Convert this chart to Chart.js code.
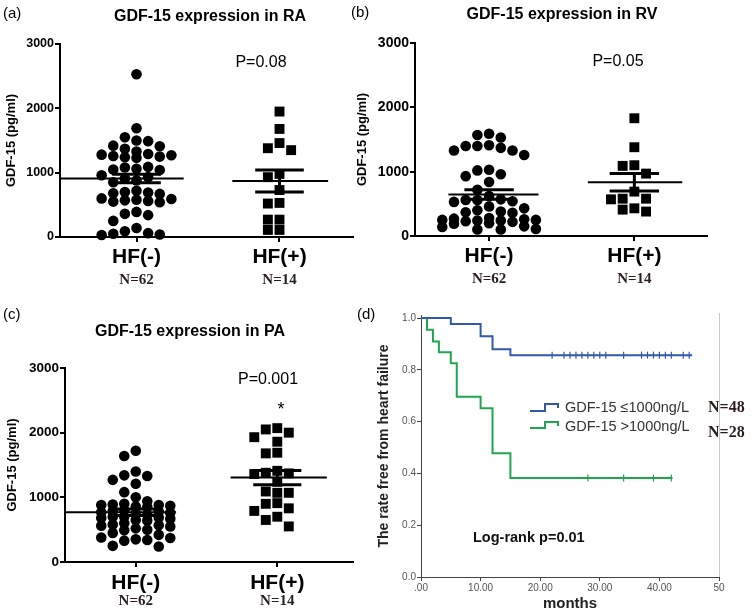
<!DOCTYPE html>
<html>
<head>
<meta charset="utf-8">
<script src="https://cdn.jsdelivr.net/npm/chart.js@4.4.1/dist/chart.umd.min.js"></script>
<style>
body{margin:0;background:#fff;width:752px;height:615px;overflow:hidden;position:relative;}
canvas{position:absolute;}
</style>
</head>
<body>
<canvas id="chartA" style="left:0;top:0" width="360" height="300"></canvas>
<canvas id="chartB" style="left:345px;top:0" width="407" height="300"></canvas>
<canvas id="chartC" style="left:0;top:300px" width="360" height="315"></canvas>
<canvas id="chartD" style="left:355px;top:300px" width="397" height="315"></canvas>
<script>
// ================= DATA =================

const groups = ['HF(-)', 'HF(+)'];
const groupN = ['N=62', 'N=14'];
const yTicksDot = [0, 1000, 2000, 3000];

// (a) right atrium
const raNeg = [2530, 1690, 1550, 1500, 1490, 1420, 1410, 1370, 1330, 1290, 1280, 1270, 1260, 1250, 1240, 1230,
    1090, 1080, 1060, 1050, 1040, 960, 930, 910, 880, 850, 720, 700, 690, 680, 670, 600, 590, 580, 570, 560,
    550, 540, 390, 360, 340, 250, 140, 90, 60, 50, 40, 30];
const raPos = [1950, 1680, 1460, 1380, 1350, 980, 930, 730, 530, 520, 270, 270, 110, 110];
const raMean = [910, 870];
const raSem = [65, 170];

// (b) right ventricle
const rvNeg = [1590, 1570, 1530, 1410, 1400, 1400, 1370, 1330, 1330, 1260, 1030, 1020, 960, 930, 840, 720,
    620, 570, 560, 560, 540, 530, 460, 430, 400, 380, 370, 360, 280, 270, 260, 250, 250, 240, 240, 230,
    220, 200, 190, 150, 140, 110, 100, 100];
const rvPos = [1830, 1380, 1100, 1090, 970, 690, 580, 580, 570, 430, 410, 380];
const rvMean = [645, 835];
const rvSem = [72, 135];

// (c) pulmonary artery
const paNeg = [1720, 1640, 1400, 1340, 1330, 1270, 1210, 1080, 1000, 940, 900, 890, 880, 880, 870, 860,
    850, 800, 790, 780, 770, 760, 750, 730, 700, 700, 690, 680, 670, 650, 640, 600, 580, 570, 560, 550,
    520, 500, 490, 450, 420, 380, 370, 350, 340, 330, 250, 240];
const paPos = [2070, 2050, 2000, 1930, 1860, 1690, 1680, 1410, 1380, 1370, 1360, 1240, 1090, 1070, 1070,
    910, 900, 830, 790, 700, 650, 550];
const paMean = [770, 1305];
const paSem = [50, 110];

// (d) Kaplan-Meier
const kmLabels = ['GDF-15 \u22641000ng/L', 'GDF-15 >1000ng/L'];
const kmN = ['N=48', 'N=28'];
const lowTimes = [0, 5, 10, 12, 15, 45.5];
const lowSurv = [1, 0.977, 0.93, 0.88, 0.857, 0.857];
const lowCensor = [22, 24, 25, 26, 27, 28, 29, 30, 31, 34, 37, 38, 39, 40, 41, 42, 44, 45];
const highTimes = [0, 1, 2, 3, 5, 6, 10, 12, 15, 42.2];
const highSurv = [1, 0.955, 0.91, 0.868, 0.826, 0.696, 0.652, 0.478, 0.382, 0.382];
const highCensor = [28, 34, 39, 42];
const kmXTicks = [0, 10, 20, 30, 40, 50];
const kmYTicks = [0, 0.2, 0.4, 0.6, 0.8, 1.0];

const blue = '#3159a8';
const green = '#1fa64e';

// ================= HELPERS =================

// simple beeswarm: spread points sideways, at most maxCols columns each side
function swarm(vals, center, pxX, pxY, maxCols){
    const gap = 11.7, size = 10;
    const placed = [];
    const slots = [0];
    for(let k = 1; k <= maxCols; k++){ slots.push(-k * gap, k * gap); }
    [...vals].sort((a, b) => b - a).forEach(v => {
        let best = slots[0], bestDist = -1;
        for(const off of slots){
            const d = placed.reduce((m, p) => Math.min(m, Math.hypot(p.px - off, (p.v - v) * pxY)), Infinity);
            if(d >= size){ best = off; bestDist = d; break; }
            if(d > bestDist){ best = off; bestDist = d; }
        }
        placed.push({px: best, v: v});
    });
    return placed.map(p => ({x: center + p.px / pxX, y: p.v}));
}

function segment(pts, width){
    return {
        type: 'line',
        data: pts.map(p => ({x: p[0], y: p[1]})),
        borderColor: '#000',
        borderWidth: width,
        pointRadius: 0,
        clip: false,
        order: 0
    };
}

function survAt(times, surv, t){
    let s = surv[0];
    times.forEach((tt, i) => { if(tt <= t) s = surv[i]; });
    return s;
}

// draws free text (panel letters, titles, p values, N labels)
const textPlugin = {
    id: 'panelText',
    afterDraw(chart, args, opts){
        const ctx = chart.ctx;
        ctx.save();
        (opts.items || []).forEach(t => {
            ctx.font = t.font;
            ctx.fillStyle = t.color || '#000';
            ctx.textAlign = t.align || 'left';
            ctx.textBaseline = 'middle';
            const x = t.group ? chart.scales.x.getPixelForValue(t.group) : t.x;
            ctx.fillText(t.text, x, t.y);
        });
        (opts.icons || []).forEach(ic => {
            ctx.strokeStyle = ic.color;
            ctx.lineWidth = 2;
            ctx.beginPath();
            ic.pts.forEach((p, i) => i ? ctx.lineTo(p[0], p[1]) : ctx.moveTo(p[0], p[1]));
            ctx.stroke();
        });
        if(opts.rightBorder){
            const a = chart.chartArea;
            ctx.strokeStyle = '#c8c8c8';
            ctx.lineWidth = 1;
            ctx.beginPath();
            ctx.moveTo(Math.round(a.right) + 0.5, a.top - 2);
            ctx.lineTo(Math.round(a.right) + 0.5, a.bottom);
            ctx.stroke();
        }
        ctx.restore();
    }
};

const sans = 'Arial, "Liberation Sans", sans-serif';
const serifBold = 'bold 15px "Liberation Serif", "Times New Roman", serif';

// ================= DOT PLOT PANELS =================

function dotPanel(id, cfg){
    const canvas = document.getElementById(id);
    const W = canvas.width, H = canvas.height;
    const pxX = (cfg.area.right - cfg.area.left) / (cfg.xMax - cfg.xMin);
    const pxY = (cfg.area.bottom - cfg.area.top) / 3000;

    const datasets = [];
    cfg.values.forEach((vals, g) => {
        const c = g + 1, m = cfg.mean[g], s = cfg.sem[g];
        datasets.push({
            type: 'scatter',
            data: swarm(vals, c, pxX, pxY, cfg.maxCols[g]),
            pointStyle: g ? 'rect' : 'circle',
            pointRadius: g ? 7 : 5.3,
            pointHoverRadius: g ? 7 : 5.3,
            backgroundColor: '#000',
            borderWidth: 0,
            clip: false,
            order: 1
        });
        datasets.push(segment([[c + cfg.meanSpan[g][0], m], [c + cfg.meanSpan[g][1], m]], 2));
        datasets.push(segment([[c - 0.17, m + s], [c + 0.17, m + s]], 3));
        datasets.push(segment([[c - 0.17, m - s], [c + 0.17, m - s]], 3));
        datasets.push(segment([[c, m - s], [c, m + s]], 3));
    });

    const items = cfg.text.concat(groupN.map((n, i) => ({
        text: n, group: i + 1, y: cfg.nY, align: 'center', font: serifBold, color: '#2b1d1d'
    })));

    return new Chart(canvas, {
        type: 'scatter',
        data: {datasets: datasets},
        plugins: [textPlugin],
        options: {
            responsive: false,
            animation: false,
            layout: {padding: {left: 0, top: cfg.area.top, right: W - cfg.area.right, bottom: 0}},
            plugins: {
                legend: {display: false},
                tooltip: {enabled: false},
                panelText: {items: items}
            },
            scales: {
                x: {
                    type: 'linear',
                    min: cfg.xMin,
                    max: cfg.xMax,
                    afterFit: s => { s.height = H - cfg.area.bottom; },
                    afterBuildTicks: s => { s.ticks = [{value: 1}, {value: 2}]; },
                    ticks: {
                        callback: (v, i) => groups[i],
                        font: {family: 'Arial, "Liberation Sans"', weight: 'bold', size: 21},
                        color: '#000',
                        padding: cfg.xPad,
                        autoSkip: false,
                        maxRotation: 0
                    },
                    grid: {drawOnChartArea: false, drawTicks: true, tickLength: 5, color: '#000', lineWidth: 2},
                    border: {color: '#000', width: 2}
                },
                y: {
                    min: 0,
                    max: 3000,
                    afterFit: s => { s.width = cfg.area.left; },
                    afterBuildTicks: s => { s.ticks = yTicksDot.map(v => ({value: v})); },
                    ticks: {
                        callback: v => String(v),
                        font: {family: 'Arial, "Liberation Sans"', weight: 'bold', size: cfg.yFont},
                        color: '#000',
                        padding: 1
                    },
                    title: {
                        display: true,
                        text: 'GDF-15 (pg/ml)',
                        font: {family: 'Arial, "Liberation Sans"', weight: 'bold', size: 13},
                        color: '#000',
                        padding: {top: cfg.yTitlePad, bottom: 0}
                    },
                    grid: {drawOnChartArea: false, drawTicks: true, tickLength: 5, color: '#000', lineWidth: 2},
                    border: {color: '#000', width: 2}
                }
            }
        }
    });
}

dotPanel('chartA', {
    values: [raNeg, raPos], mean: raMean, sem: raSem, maxCols: [3, 2],
    meanSpan: [[-0.53, 0.33], [-0.33, 0.34]],
    area: {left: 60, right: 355, top: 44, bottom: 237},
    xMin: 0.465, xMax: 2.514, xPad: 3, yFont: 12.5, yTitlePad: 4, nY: 280,
    text: [
        {text: '(a)', x: 3, y: 14, font: '15px ' + sans},
        {text: 'GDF-15 expression in RA', x: 210, y: 17, align: 'center', font: 'bold 16px ' + sans},
        {text: 'P=0.08', x: 261, y: 63, align: 'center', font: '16px ' + sans}
    ]
});

dotPanel('chartB', {
    values: [rvNeg, rvPos], mean: rvMean, sem: rvSem, maxCols: [4, 2],
    meanSpan: [[-0.28, 0.34], [-0.32, 0.33]],
    area: {left: 70, right: 362, top: 43, bottom: 236},
    xMin: 0.49, xMax: 2.5, xPad: 3, yFont: 14, yTitlePad: 10, nY: 279,
    text: [
        {text: '(b)', x: 6, y: 13, font: '15px ' + sans},
        {text: 'GDF-15 expression in RV', x: 217, y: 15, align: 'center', font: 'bold 16px ' + sans},
        {text: 'P=0.05', x: 273, y: 62, align: 'center', font: '16px ' + sans}
    ]
});

dotPanel('chartC', {
    values: [paNeg, paPos], mean: paMean, sem: paSem, maxCols: [3, 2],
    meanSpan: [[-0.5, 0.285], [-0.33, 0.35]],
    area: {left: 65, right: 358, top: 68, bottom: 262},
    xMin: 0.5, xMax: 2.535, xPad: 4, yFont: 13.5, yTitlePad: 5, nY: 301,
    text: [
        {text: '(c)', x: 3, y: 15, font: '15px ' + sans},
        {text: 'GDF-15 expression in PA', x: 190, y: 32, align: 'center', font: 'bold 16px ' + sans},
        {text: 'P=0.001', x: 268, y: 80, align: 'center', font: '16px ' + sans},
        {text: '*', x: 281, y: 110, align: 'center', font: '18px ' + sans}
    ]
});

// ================= KAPLAN-MEIER PANEL =================

function kmPanel(){
    const canvas = document.getElementById('chartD');
    const W = canvas.width, H = canvas.height;
    const area = {left: 66, right: 364, top: 15, bottom: 277};

    const curve = (times, surv, color) => ({
        type: 'line',
        data: times.map((t, i) => ({x: t, y: surv[i]})),
        stepped: 'before',
        borderColor: color,
        borderWidth: 2,
        pointRadius: 0,
        fill: false,
        clip: false
    });
    const censor = (list, times, surv, color) => ({
        type: 'scatter',
        data: list.map(t => ({x: t, y: survAt(times, surv, t)})),
        pointStyle: 'line',
        rotation: 90,
        pointRadius: 3.5,
        borderColor: color,
        borderWidth: 1.2,
        clip: false
    });

    return new Chart(canvas, {
        type: 'scatter',
        data: {
            datasets: [
                curve(lowTimes, lowSurv, blue),
                censor(lowCensor, lowTimes, lowSurv, blue),
                curve(highTimes, highSurv, green),
                censor(highCensor, highTimes, highSurv, green)
            ]
        },
        plugins: [textPlugin],
        options: {
            responsive: false,
            animation: false,
            layout: {padding: {left: 0, top: area.top, right: W - area.right, bottom: 0}},
            plugins: {
                legend: {display: false},
                tooltip: {enabled: false},
                panelText: {
                    rightBorder: true,
                    items: [
                        {text: '(d)', x: 2, y: 15, font: '15px ' + sans},
                        {text: kmLabels[0], x: 210, y: 108, font: '14.5px ' + sans, color: '#333'},
                        {text: kmLabels[1], x: 210, y: 127, font: '14.5px ' + sans, color: '#333'},
                        {text: kmN[0], x: 353, y: 108, font: 'bold 16px "Liberation Serif", "Times New Roman", serif', color: '#2b1d1d'},
                        {text: kmN[1], x: 353, y: 133, font: 'bold 16px "Liberation Serif", "Times New Roman", serif', color: '#2b1d1d'},
                        {text: 'Log-rank p=0.01', x: 118, y: 238, font: 'bold 14.5px ' + sans, color: '#111'}
                    ],
                    icons: [
                        {color: blue, pts: [[175, 111], [190, 111], [190, 104], [203, 104], [203, 108]]},
                        {color: green, pts: [[175, 128], [190, 128], [190, 122], [203, 122], [203, 126]]}
                    ]
                }
            },
            scales: {
                x: {
                    type: 'linear',
                    min: 0,
                    max: 50,
                    afterFit: s => { s.height = H - area.bottom; },
                    afterBuildTicks: s => { s.ticks = kmXTicks.map(v => ({value: v})); },
                    ticks: {
                        callback: v => v === 0 ? '.00' : (v === 50 ? '50' : v.toFixed(2)),
                        font: {family: 'Arial, "Liberation Sans"', size: 10},
                        color: '#555',
                        padding: 1,
                        maxRotation: 0
                    },
                    title: {
                        display: true,
                        text: 'months',
                        font: {family: 'Arial, "Liberation Sans"', weight: 'bold', size: 15},
                        color: '#222',
                        padding: {top: 0, bottom: 2}
                    },
                    grid: {drawOnChartArea: false, drawTicks: true, tickLength: 4, color: '#444', lineWidth: 1},
                    border: {color: '#444', width: 1}
                },
                y: {
                    min: 0,
                    max: 1.012,
                    afterFit: s => { s.width = area.left; },
                    afterBuildTicks: s => { s.ticks = kmYTicks.map(v => ({value: v})); },
                    ticks: {
                        callback: v => v.toFixed(1),
                        font: {family: 'Arial, "Liberation Sans"', size: 10},
                        color: '#555',
                        padding: 1
                    },
                    title: {
                        display: true,
                        text: 'The rate free from heart failure',
                        font: {family: 'Arial, "Liberation Sans"', weight: 'bold', size: 14},
                        color: '#222',
                        padding: {top: 21, bottom: 0}
                    },
                    grid: {drawOnChartArea: false, drawTicks: true, tickLength: 4, color: '#444', lineWidth: 1},
                    border: {color: '#444', width: 1}
                }
            }
        }
    });
}

kmPanel();
</script>
</body>
</html>
